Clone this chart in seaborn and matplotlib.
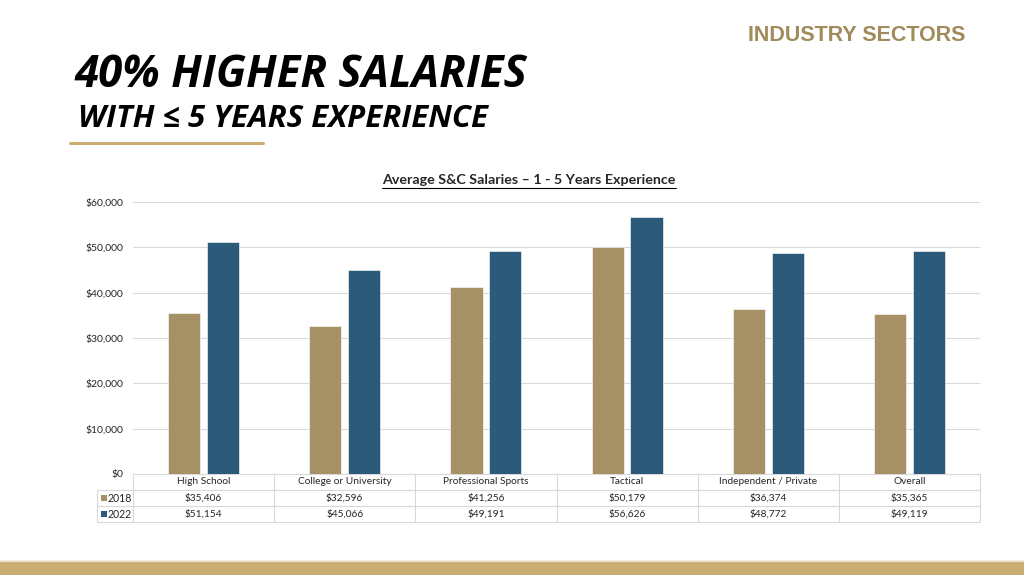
import matplotlib
matplotlib.use("Agg")
import matplotlib.pyplot as plt
from matplotlib.lines import Line2D
import seaborn as sns
import pandas as pd

# --- data ---------------------------------------------------------
categories = ["High School", "College or University", "Professional Sports",
              "Tactical", "Independent / Private", "Overall"]
salaries_2018 = [35406, 32596, 41256, 50179, 36374, 35365]
salaries_2022 = [51154, 45066, 49191, 56626, 48772, 49119]
years = ["2018", "2022"]
yticks = [0, 10000, 20000, 30000, 40000, 50000, 60000]

tan = "#A69066"
blue = "#2C5A7A"
gold = "#C9AD71"
grid_c = "#D9D9D9"

df = pd.DataFrame({
    "sector": categories * 2,
    "year": [years[0]] * len(categories) + [years[1]] * len(categories),
    "salary": salaries_2018 + salaries_2022,
})

sns.set_theme(style="white")
plt.rcParams["font.family"] = ["Lato", "DejaVu Sans"]

W, H = 1024, 575
fig = plt.figure(figsize=(W / 100, H / 100), dpi=100)
ax = fig.add_axes([133 / W, 1 - 474 / H, (980 - 133) / W, (474 - 202) / H])

sns.barplot(data=df, x="sector", y="salary", hue="year", order=categories,
            hue_order=years, palette=[tan, blue], saturation=1, width=0.55,
            gap=0.175, edgecolor="white", linewidth=0.4, legend=False, ax=ax,
            zorder=3)

ax.set_xlim(-0.5, len(categories) - 0.5)
ax.set_ylim(0, 60000)
ax.set_yticks(yticks)
ax.set_yticklabels([f"${v:,.0f}" for v in yticks], fontsize=7.5)
ax.tick_params(axis="y", length=0, pad=7)
ax.set_xticks([])
ax.set_xlabel("")
ax.set_ylabel("")
for s in ax.spines.values():
    s.set_visible(False)
ax.yaxis.grid(True, color=grid_c, linewidth=0.8, zorder=0)
ax.set_axisbelow(True)

# --- data table under the chart ----------------------------------
tr = ax.get_xaxis_transform()
px = 847 / 6          # pixels per category
rh = 16 / 272
lab_left = -0.5 - 36 / px
right = len(categories) - 0.5
kw = dict(color=grid_c, linewidth=0.8, transform=tr, clip_on=False)
ax.plot([-0.5, right], [0, 0], **kw)
for r in (1, 2, 3):
    ax.plot([lab_left, right], [-r * rh, -r * rh], **kw)
for i in range(len(categories) + 1):
    ax.plot([i - 0.5, i - 0.5], [0, -3 * rh], **kw)
ax.plot([lab_left, lab_left], [-rh, -3 * rh], **kw)

for i, cat in enumerate(categories):
    ax.text(i, -0.5 * rh, cat, transform=tr, ha="center", va="center", fontsize=7.3)
    ax.text(i, -1.5 * rh, f"${salaries_2018[i]:,}", transform=tr,
            ha="center", va="center", fontsize=7.3)
    ax.text(i, -2.5 * rh, f"${salaries_2022[i]:,}", transform=tr,
            ha="center", va="center", fontsize=7.3)

for r, (yr, col) in enumerate(zip(years, [tan, blue])):
    yc = -(1.5 + r) * rh
    ax.scatter([lab_left + 6.5 / px], [yc], marker="s", s=22, color=col,
               linewidth=0, transform=tr, clip_on=False)
    ax.text(lab_left + 11 / px, yc, yr, transform=tr, ha="left", va="center",
            fontsize=7.6)

# --- slide text ---------------------------------------------------
fig.text(75 / W, 1 - 87 / H, "40% HIGHER SALARIES", fontsize=31.5,
         fontweight="bold", fontstyle="italic", ha="left", va="baseline",
         color="black", family=["Open Sans", "DejaVu Sans"])
fig.text(78 / W, 1 - 127 / H, "WITH \u2264 5 YEARS EXPERIENCE", fontsize=22.5,
         fontweight="bold", fontstyle="italic", ha="left", va="baseline",
         color="black", family=["Open Sans", "DejaVu Sans"])
fig.add_artist(Line2D([70 / W, 263 / W], [1 - 143 / H, 1 - 143 / H],
                      color=gold, linewidth=2.2, transform=fig.transFigure))
fig.text(965 / W, 1 - 41 / H, "INDUSTRY SECTORS", fontsize=15.5,
         fontweight="bold", ha="right", va="baseline", color="#A08B5A",
         family=["Liberation Sans", "DejaVu Sans"])

title = fig.text(529 / W, 1 - 184 / H,
                 "Average S&C Salaries \u2013 1 - 5 Years Experience",
                 fontsize=10.3, fontweight="bold", ha="center", va="baseline")
fig.canvas.draw()
bb = title.get_window_extent(fig.canvas.get_renderer())
uy = (bb.y0 - 1.5) / H
fig.add_artist(Line2D([bb.x0 / W, bb.x1 / W], [uy, uy], color="black",
                      linewidth=0.8, transform=fig.transFigure))

# bottom band
fig.add_artist(plt.Rectangle((0, 0), 1, 14 / H, color=gold,
                             transform=fig.transFigure))
fig.add_artist(Line2D([0, 1], [14.5 / H, 14.5 / H], color="#E8DCC2",
                      linewidth=1, transform=fig.transFigure))

fig.savefig("out.png", dpi=100)
